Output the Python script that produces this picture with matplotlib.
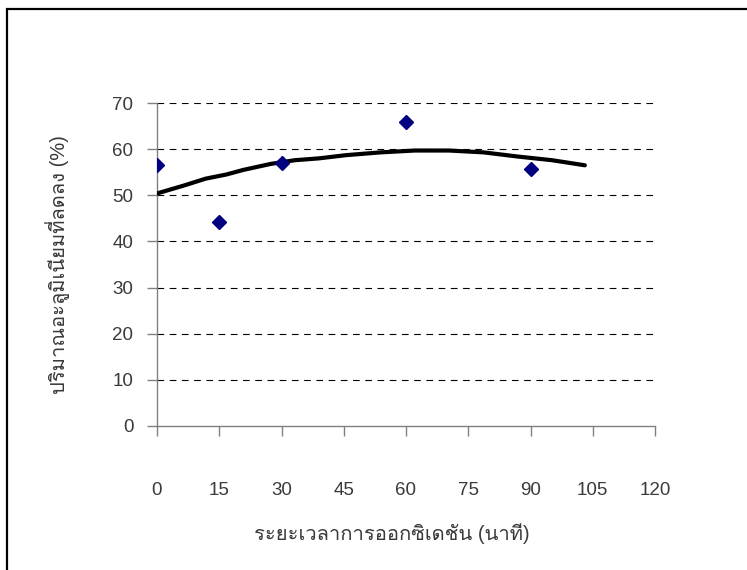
import numpy as np
import matplotlib
matplotlib.use("Agg")
import matplotlib.pyplot as plt
from matplotlib import font_manager
from matplotlib.ft2font import FT2Font
from matplotlib.patches import Rectangle

# measured points
time_min = [0, 15, 30, 60, 90]
al_removed = [56.5, 44.3, 57.1, 65.8, 55.7]

# trendline
trend_x = [0, 6.8, 11.7, 16.7, 20.8, 27.4, 33.2, 39.0, 45.6, 53.9, 62.1, 70.4, 78.7, 86.9, 95.2, 103.1]
trend_y = [50.4, 52.2, 53.6, 54.5, 55.5, 56.8, 57.6, 58.0, 58.7, 59.3, 59.7, 59.7, 59.3, 58.4, 57.6, 56.5]

xticks = [0, 15, 30, 45, 60, 75, 90, 105, 120]
yticks = [0, 10, 20, 30, 40, 50, 60, 70]

xlabel = "ระยะเวลาการออกซิเดชัน (นาที)"
ylabel = "ปริมาณอะลูมิเนียมที่ลดลง (%)"


def thai_fonts():
    # find whatever installed font has thai glyphs
    names = []
    for f in font_manager.fontManager.ttflist:
        try:
            cm = FT2Font(f.fname).get_charmap()
        except Exception:
            continue
        if 0x0E1B in cm and f.name not in names:
            names.append(f.name)
    return names


th = thai_fonts()
fam = ["Liberation Sans"] + th + ["DejaVu Sans"]
plt.rcParams['font.family'] = fam

fig = plt.figure(figsize=(7.47, 5.70), dpi=100)
ax = fig.add_axes([157/747, 1 - 426/570, 498/747, 323/570])

ax.plot(trend_x, trend_y, color="black", lw=3.0, solid_capstyle="round", zorder=3)
ax.plot(time_min, al_removed, ls="none", marker="D", ms=7, color="#000080", zorder=4)

ax.set_xlim(0, 120)
ax.set_ylim(0, 70)
ax.set_xticks(xticks)
ax.set_yticks(yticks)
ax.set_xticklabels([str(v) for v in xticks])
ax.set_yticklabels([str(v) for v in yticks])

for y in yticks[1:]:
    ax.axhline(y, color="black", lw=0.8, dashes=(6, 5), zorder=1)

for s in ["top", "right"]:
    ax.spines[s].set_visible(False)
for s in ["left", "bottom"]:
    ax.spines[s].set_color("#808080")
    ax.spines[s].set_linewidth(1.0)

ax.tick_params(axis="both", direction="out", length=7, width=1.0, color="#808080",
               labelsize=13.5, labelcolor="#3a3a3a")
ax.tick_params(axis="x", pad=33)
ax.tick_params(axis="y", pad=10)

fig.text(392/747, 1 - 534/570, xlabel, ha="center", va="center", fontsize=14.5, color="#3a3a3a")
fig.text(58/747, 1 - 265/570, ylabel, ha="center", va="center", rotation=90,
         fontsize=14.5, color="#3a3a3a")

# chart border
fig.patches.append(Rectangle((7/747, -0.05), 1.1, 1 - 9/570 + 0.05, transform=fig.transFigure,
                             fill=False, ec="black", lw=1.6, clip_on=False))

fig.savefig("out.png", dpi=100)
